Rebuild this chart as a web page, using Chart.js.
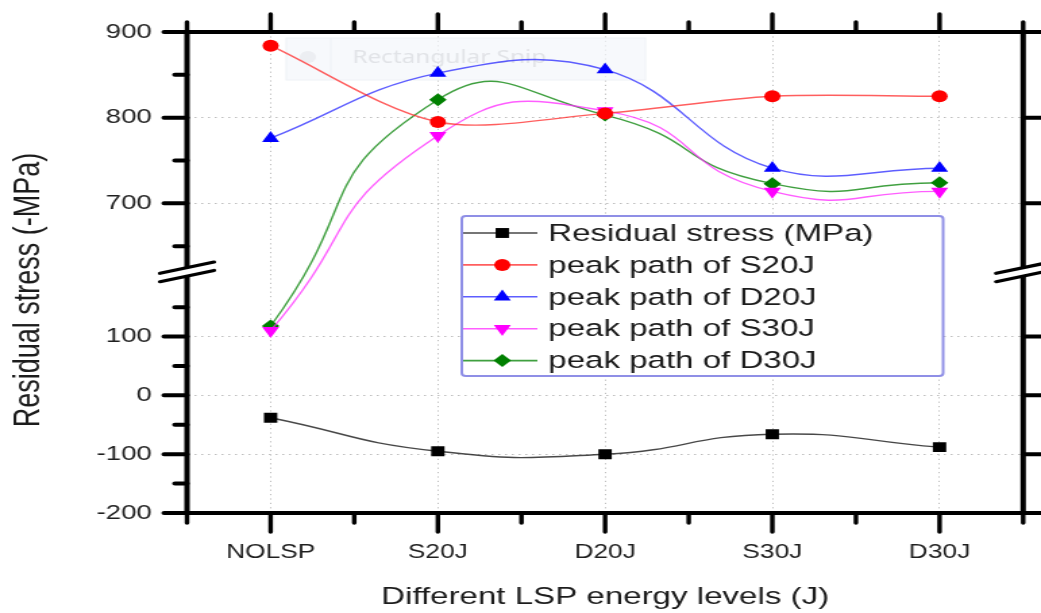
<!DOCTYPE html>
<html>
<head>
<meta charset="utf-8">
<script src="https://cdn.jsdelivr.net/npm/chart.js@4.4.1/dist/chart.umd.min.js"></script>
<style>
  html, body { margin: 0; padding: 0; background: #fff; overflow: hidden; }
  /* the source picture is stretched sideways, so the whole chart is too */
  #wrap { width: 771px; height: 613px; transform: scaleX(1.3502); transform-origin: 0 0; }
</style>
</head>
<body>
<div id="wrap"><canvas id="chart"></canvas></div>
<script>
const categories = ["NOLSP", "S20J", "D20J", "S30J", "D30J"];
const residualStress = [-38, -95, -100, -66, -88];
const peakS20J = [884, 795, 805, 825, 825];
const peakD20J = [776, 852, 856, 741, 741];
const peakS30J = [110, 779, 808, 714, 714];
const peakD30J = [118, 821, 803, 723, 724];

const yMajorTicks = [-200, -100, 0, 100, 700, 800, 900];
const yMinorTicks = [-150, -50, 50, 150, 650, 750, 850];

// broken y axis: -200..210 below the break, 620..900 above it
const breakLow = 210;
const breakHigh = 620;
const upperScale = 1.4566; // upper part is drawn this much taller per MPa

const toAxis = (v) => (v <= breakLow ? v : breakLow + (v - breakHigh) * upperScale);
const fromAxis = (a) => (a <= breakLow + 1e-6 ? a : breakHigh + (a - breakLow) / upperScale);

const FONT = "'Liberation Sans', Arial, sans-serif";

const series = [
  { label: "Residual stress (MPa)", data: residualStress, color: "#000000", line: "rgba(40,40,40,0.85)", style: "rect", radius: 7, rotation: 0, tension: 0.5 },
  { label: "peak path of S20J", data: peakS20J, color: "#ff0000", line: "rgba(255,40,40,0.75)", style: "circle", radius: 6, rotation: 0, tension: 0.3 },
  { label: "peak path of D20J", data: peakD20J, color: "#0000ff", line: "rgba(40,40,255,0.75)", style: "triangle", radius: 7.3, rotation: 0, tension: 0.42 },
  { label: "peak path of S30J", data: peakS30J, color: "#ff00ff", line: "rgba(255,40,255,0.75)", style: "triangle", radius: 7.3, rotation: 180, tension: 0.55 },
  { label: "peak path of D30J", data: peakD30J, color: "#008000", line: "rgba(0,128,0,0.75)", style: "rectRot", radius: 6.5, rotation: 0, tension: 0.57 },
];

function drawMarker(ctx, s, x, y) {
  const r = s.radius;
  ctx.save();
  ctx.fillStyle = s.color;
  ctx.beginPath();
  if (s.style === "circle") {
    ctx.arc(x, y, r, 0, Math.PI * 2);
  } else if (s.style === "rect") {
    const h = r * Math.SQRT1_2;
    ctx.rect(x - h, y - h, 2 * h, 2 * h);
  } else if (s.style === "rectRot") {
    ctx.moveTo(x, y - r); ctx.lineTo(x + r, y); ctx.lineTo(x, y + r); ctx.lineTo(x - r, y);
  } else {
    const d = s.rotation ? -1 : 1;
    ctx.moveTo(x, y - d * r);
    ctx.lineTo(x + r * 0.866, y + d * r / 2);
    ctx.lineTo(x - r * 0.866, y + d * r / 2);
  }
  ctx.closePath();
  ctx.fill();
  ctx.restore();
}

const snipGhost = {
  id: "snipGhost",
  beforeDatasetsDraw(chart) {
    const ctx = chart.ctx;
    ctx.save();
    ctx.fillStyle = "rgba(244,247,251,0.7)";
    ctx.strokeStyle = "#eef1f6";
    ctx.lineWidth = 1;
    ctx.fillRect(212, 38, 266, 42);
    ctx.strokeRect(212, 38, 266, 42);
    ctx.beginPath(); ctx.moveTo(245, 38); ctx.lineTo(245, 80); ctx.stroke();
    ctx.fillStyle = "#eceef2";
    ctx.beginPath(); ctx.arc(228, 57, 6, 0, Math.PI * 2); ctx.fill();
    ctx.fillStyle = "#e1e3e7";
    ctx.font = "18px 'Noto Sans', sans-serif";
    ctx.textBaseline = "middle";
    ctx.fillText("Rectangular Snip", 261, 58);
    ctx.restore();
  },
};

const frameAndLegend = {
  id: "frameAndLegend",
  afterDatasetsDraw(chart) {
    const ctx = chart.ctx;
    const { left: L, right: R, top: T, bottom: B } = chart.chartArea;
    const xs = chart.scales.x;
    const ys = chart.scales.y;

    // legend
    ctx.save();
    ctx.fillStyle = "#fff";
    ctx.strokeStyle = "#8f8fe6";
    ctx.lineWidth = 2;
    ctx.beginPath();
    ctx.roundRect(342, 216, 356.5, 160, 3);
    ctx.fill();
    ctx.stroke();
    ctx.font = "24.5px " + FONT;
    ctx.textBaseline = "middle";
    series.forEach((s, i) => {
      const y = 233 + i * 31.9;
      ctx.strokeStyle = s.line;
      ctx.lineWidth = 1.6;
      ctx.beginPath(); ctx.moveTo(343, y); ctx.lineTo(398, y); ctx.stroke();
      drawMarker(ctx, s, 372, y);
      ctx.fillStyle = "#1c1c1c";
      ctx.fillText(s.label, 406, y + 1);
    });
    ctx.restore();

    // frame
    ctx.save();
    ctx.strokeStyle = "#000";
    ctx.lineWidth = 4;
    ctx.lineCap = "square";
    ctx.strokeRect(L, T, R - L, B - T);

    // x ticks, bottom and top
    const step = (R - L) / categories.length;
    ctx.lineCap = "round";
    ctx.lineWidth = 3.4;
    ctx.beginPath();
    categories.forEach((c, i) => {
      const x = xs.getPixelForValue(i);
      ctx.moveTo(x, B); ctx.lineTo(x, B + 19);
      ctx.moveTo(x, T); ctx.lineTo(x, T - 18);
    });
    for (let j = 0; j <= categories.length; j++) {
      const x = L + j * step;
      ctx.moveTo(x, B); ctx.lineTo(x, B + 10);
      ctx.moveTo(x, T); ctx.lineTo(x, T - 10);
    }
    ctx.stroke();

    // y ticks, left and right
    ctx.lineWidth = 4;
    ctx.beginPath();
    yMajorTicks.forEach((v) => {
      const y = ys.getPixelForValue(toAxis(v));
      ctx.moveTo(L, y); ctx.lineTo(L - 17, y);
      ctx.moveTo(R, y); ctx.lineTo(R + 16, y);
    });
    yMinorTicks.forEach((v) => {
      const y = ys.getPixelForValue(toAxis(v));
      ctx.moveTo(L, y); ctx.lineTo(L - 9, y);
    });
    ctx.stroke();

    // break marks
    const yb = ys.getPixelForValue(breakLow);
    [L, R].forEach((x0) => {
      const dx = 20, slope = -0.28, gap = 4.2;
      ctx.fillStyle = "#fff";
      ctx.beginPath();
      ctx.moveTo(x0 - dx, yb - gap - slope * dx);
      ctx.lineTo(x0 + dx, yb - gap + slope * dx);
      ctx.lineTo(x0 + dx, yb + gap + slope * dx);
      ctx.lineTo(x0 - dx, yb + gap - slope * dx);
      ctx.closePath();
      ctx.fill();
      ctx.lineWidth = 3.2;
      ctx.lineCap = "round";
      ctx.beginPath();
      [-gap, gap].forEach((g) => {
        ctx.moveTo(x0 - dx, yb + g - slope * dx);
        ctx.lineTo(x0 + dx, yb + g + slope * dx);
      });
      ctx.stroke();
    });
    ctx.restore();

    // axis titles
    ctx.save();
    ctx.fillStyle = "#1c1c1c";
    ctx.textAlign = "center";
    ctx.textBaseline = "middle";
    ctx.font = "24.5px " + FONT;
    ctx.fillText("Different LSP energy levels (J)", (L + R) / 2, 597);
    ctx.translate(22, 290);
    ctx.rotate(-Math.PI / 2);
    ctx.font = "27px " + FONT;
    ctx.fillText("Residual stress (-MPa)", 0, 0);
    ctx.restore();
  },
};

new Chart(document.getElementById("chart"), {
  type: "line",
  data: {
    labels: categories,
    datasets: series.map((s) => ({
      label: s.label,
      data: s.data.map(toAxis),
      borderColor: s.line,
      borderWidth: 1.4,
      backgroundColor: s.color,
      pointBackgroundColor: s.color,
      pointBorderColor: s.color,
      pointBorderWidth: 0,
      pointStyle: s.style,
      pointRadius: s.radius,
      pointRotation: s.rotation,
      tension: s.tension,
      fill: false,
    })),
  },
  options: {
    responsive: true,
    maintainAspectRatio: false,
    animation: false,
    layout: { padding: { top: 32, right: 13.2, left: 0, bottom: 0 } },
    plugins: { legend: { display: false }, tooltip: { enabled: false } },
    scales: {
      x: {
        offset: true,
        grid: { offset: false, color: "#bdbdbd", lineWidth: 1, drawTicks: false },
        border: { display: false, dash: [1.2, 3.2] },
        ticks: { padding: 28, autoSkip: false, maxRotation: 0, color: "#1f1f1f", font: { family: FONT, size: 19.5 } },
        afterFit(scale) {
          scale.height = 100;
          scale.paddingLeft = 0;
          scale.paddingRight = 0;
        },
      },
      y: {
        min: -200,
        max: toAxis(900),
        grid: { color: "#bdbdbd", lineWidth: 1, drawTicks: false },
        border: { display: false, dash: [1.5, 3.5] },
        afterBuildTicks(scale) {
          scale.ticks = yMajorTicks.map((v) => ({ value: toAxis(v) }));
        },
        ticks: {
          padding: 26,
          color: "#1f1f1f",
          font: { family: FONT, size: 20.5 },
          callback: (val) => String(Math.round(fromAxis(val))),
        },
        afterFit(scale) {
          scale.width = 138.5;
          scale.paddingTop = 0;
          scale.paddingBottom = 0;
        },
      },
    },
  },
  plugins: [snipGhost, frameAndLegend],
});
</script>
</body>
</html>
